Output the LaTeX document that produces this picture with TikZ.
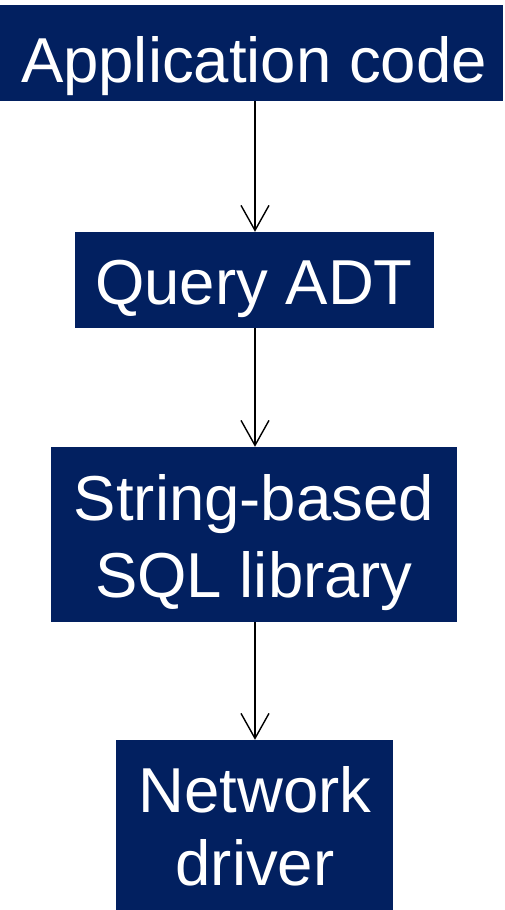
\documentclass[tikz,border=0pt]{standalone}
\usepackage{fontspec}
\setmainfont{Liberation Sans}
\usetikzlibrary{arrows.meta}
\definecolor{navy}{RGB}{2,32,96}
\tikzset{
  layer/.style={fill=navy, draw=none, inner sep=0pt, rectangle},
  caption/.style={text=white, anchor=base, inner sep=0pt, align=center,
    font=\fontsize{63.5}{74}\selectfont},
  flow/.style={line width=1.4pt, -{Straight Barb[length=25pt, width=28pt, line width=1.4pt]}}
}
\begin{document}
\begin{tikzpicture}[x=1pt, y=-1pt]
  \useasboundingbox (0,0) rectangle (505,910);
  % layer boxes
  \node[layer, minimum width=503pt, minimum height=96pt] (app) at (251.5,53) {};
  \node[layer, minimum width=359pt, minimum height=96pt] (adt) at (254.5,280) {};
  \node[layer, minimum width=406pt, minimum height=175pt] (sql) at (254,534.5) {};
  \node[layer, minimum width=277pt, minimum height=170pt] (net) at (254.5,825) {};
  % captions
  \node[caption] (appt) at (254,82) {Application code};
  \node[caption] (adtt) at (254,304) {Query ADT};
  \node[caption] (sqlt1) at (254,520) {String-based};
  \node[caption] (sqlt2) at (254,597) {SQL library};
  \node[caption] (nett1) at (255,812) {Network};
  \node[caption] (nett2) at (255,885) {driver};
  % connectors
  \draw[flow] (app.south -| 255,0) -- (adt.north -| 255,0);
  \draw[flow] (adt.south -| 255,0) -- (sql.north -| 255,0);
  \draw[flow] (sql.south -| 255,0) -- (net.north -| 255,0);
\end{tikzpicture}
\end{document}
